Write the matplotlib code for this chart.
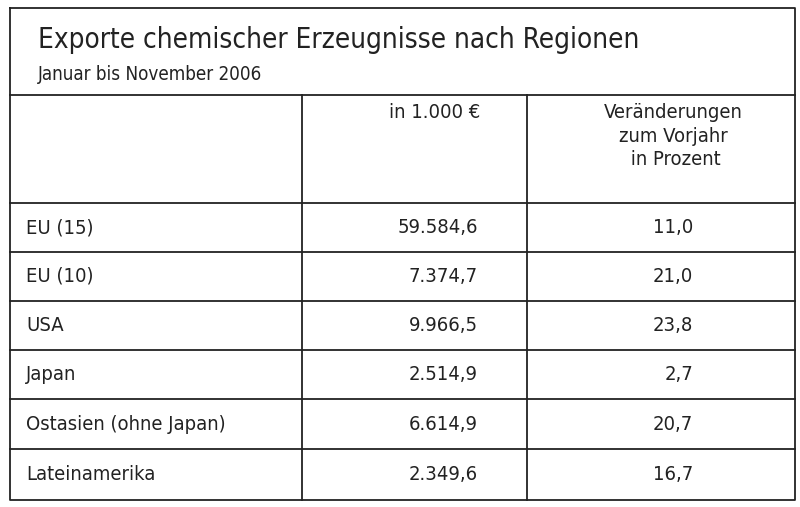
import matplotlib
matplotlib.use("Agg")
import matplotlib.pyplot as plt

title = "Exporte chemischer Erzeugnisse nach Regionen"
subtitle = "Januar bis November 2006"
col_headers = ["in 1.000 €", "Veränderungen\nzum Vorjahr\n in Prozent"]
regions = ["EU (15)", "EU (10)", "USA", "Japan", "Ostasien (ohne Japan)", "Lateinamerika"]
values = ["59.584,6", "7.374,7", "9.966,5", "2.514,9", "6.614,9", "2.349,6"]
changes = ["11,0", "21,0", "23,8", "2,7", "20,7", "16,7"]

fam = ['DejaVu Sans']
kw = dict(family=fam, stretch='condensed', color='#222')
fig = plt.figure(figsize=(8, 5.07), dpi=100)
ax = fig.add_axes([0, 0, 1, 1])
ax.set_xlim(0, 800); ax.set_ylim(507, 0); ax.axis('off')

L, R, T, B = 10, 795, 8, 500
lw = 1.3
ax.plot([L, R, R, L, L], [T, T, B, B, T], color='#222', lw=lw)
hlines = [95, 203, 252, 301, 350, 399, 449]
for y in hlines:
    ax.plot([L, R], [y, y], color='#222', lw=lw)
for x in [302, 527]:
    ax.plot([x, x], [95, B], color='#222', lw=lw)

ax.text(38, 40, title, fontsize=20, va='center', **kw)
ax.text(38, 75, subtitle, fontsize=13.5, va='center', **kw)
ax.text(435, 103, col_headers[0], fontsize=14.5, va='top', ha='center', **kw)
ax.text(673, 103, col_headers[1], fontsize=14.5, va='top', ha='center', linespacing=1.3, **kw)

bounds = hlines[1:] + [B]
for i, (r, v, c) in enumerate(zip(regions, values, changes)):
    y = (bounds[i] + bounds[i + 1]) / 2
    ax.text(26, y, r, fontsize=14.5, va='center', **kw)
    ax.text(478, y, v, fontsize=14.5, va='center', ha='right', **kw)
    ax.text(693, y, c, fontsize=14.5, va='center', ha='right', **kw)

fig.savefig("out.png", dpi=100)
